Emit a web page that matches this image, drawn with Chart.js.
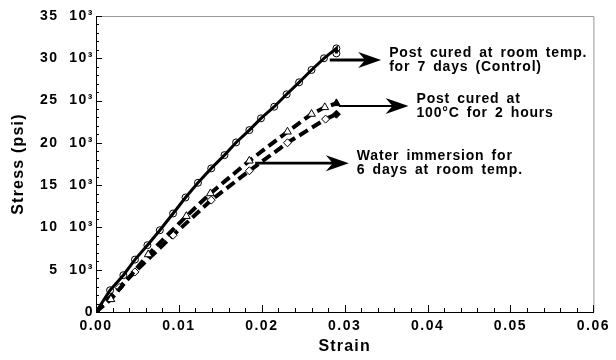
<!DOCTYPE html>
<html>
<head>
<meta charset="utf-8">
<script src="https://cdn.jsdelivr.net/npm/chart.js@4.4.0/dist/chart.umd.min.js"></script>
<style>
    html, body { margin: 0; padding: 0; background: #fff; }
    #wrap { width: 616px; height: 360px; }
</style>
</head>
<body>
<div id="wrap"><canvas id="chart"></canvas></div>
<script>
// Post cured at room temp. for 7 days (Control) - open circles, solid line
const controlStrain = [0, 0.0017, 0.0033, 0.0047, 0.0062, 0.0077, 0.0093, 0.0108, 0.0123, 0.0139, 0.0155, 0.0169, 0.0185, 0.0199, 0.0215, 0.0230, 0.0245, 0.0260, 0.0275, 0.0290, 0.0290];
const controlStress = [0, 2570, 4350, 6200, 7900, 9670, 11650, 13540, 15280, 16980, 18550, 20050, 21510, 22900, 24270, 25740, 27160, 28620, 30000, 31170, 30580];

// Post cured at 100°C for 2 hours - triangles, dashed line
const curedStrain = [0, 0.0018, 0.0063, 0.0109, 0.0138, 0.0185, 0.0231, 0.0260, 0.0276, 0.0290];
const curedStress = [0, 1500, 6800, 11330, 14020, 17880, 21310, 23410, 24200, 24670];

// Water immersion for 6 days at room temp. - diamonds, dashed line
const waterStrain = [0, 0.0028, 0.0047, 0.0093, 0.0139, 0.0185, 0.0231, 0.0277, 0.0290];
const waterStress = [0, 2900, 4740, 9080, 13230, 16700, 20010, 22810, 23390];

const xTickStep = 0.01;
const yTickStep = 5000;

// notes: text lines, arrow tail (strain, stress) and arrow tip strain
const noteText = [
    ['Post cured at room temp.', 'for 7 days (Control)'],
    ['Post cured at', '100°C for 2 hours'],
    ['Water immersion for', '6 days at room temp.']
];
const noteFrom = [[0.0282, 29800], [0.0293, 24360], [0.0192, 17600]];
const noteTo = [0.0344, 0.0377, 0.0305];
const noteWidth = [3.2, 2, 2.6];

const FONT = '"Liberation Sans", Arial, Helvetica, sans-serif';

function toPoints(xs, ys) {
    return xs.map((x, i) => ({ x: x, y: ys[i] }));
}

function lastFilled(n, fill) {
    return Array.from({ length: n }, (_, i) => i === n - 1 ? '#000' : fill);
}

// wide tracking like the scanned figure
const spacing = {
    id: 'spacing',
    beforeLayout(chart) { chart.ctx.letterSpacing = '1.5px'; },
    beforeDraw(chart) { chart.ctx.letterSpacing = '1.5px'; }
};

const decorations = {
    id: 'decorations',
    afterDraw(chart) {
        const { ctx, chartArea: a, scales: { x, y } } = chart;
        ctx.save();

        // frame
        ctx.lineWidth = 1;
        ctx.strokeStyle = '#999';
        ctx.beginPath();
        ctx.moveTo(a.left, a.top + 0.5);
        ctx.lineTo(a.right + 0.5, a.top + 0.5);
        ctx.lineTo(a.right + 0.5, a.bottom);
        ctx.stroke();

        // inward tick marks
        ctx.strokeStyle = '#000';
        ctx.beginPath();
        for (let v = 0; v <= y.max; v += 1000) {
            const py = Math.round(y.getPixelForValue(v)) + 0.5;
            const len = v % yTickStep === 0 ? 6 : 3;
            ctx.moveTo(a.left, py);
            ctx.lineTo(a.left + len, py);
        }
        for (let i = 0; i <= 30; i++) {
            const px = Math.round(x.getPixelForValue(i * 0.002)) + 0.5;
            const len = i % 5 === 0 ? 7 : 4;
            ctx.moveTo(px, a.bottom);
            ctx.lineTo(px, a.bottom - len);
        }
        ctx.stroke();

        // arrows and notes
        ctx.fillStyle = '#000';
        noteText.forEach((lines, i) => {
            const x1 = x.getPixelForValue(noteFrom[i][0]);
            const py = y.getPixelForValue(noteFrom[i][1]);
            const x2 = x.getPixelForValue(noteTo[i]);
            ctx.lineWidth = noteWidth[i];
            ctx.beginPath();
            ctx.moveTo(x1, py);
            ctx.lineTo(x2 - 12, py);
            ctx.stroke();
            ctx.beginPath();
            ctx.moveTo(x2, py);
            ctx.lineTo(x2 - 23, py - 8);
            ctx.lineTo(x2 - 16, py);
            ctx.lineTo(x2 - 23, py + 8);
            ctx.closePath();
            ctx.fill();

            ctx.font = 'bold 14px ' + FONT;
            ctx.letterSpacing = '0.8px';
            ctx.wordSpacing = '2.5px';
            ctx.textAlign = 'left';
            ctx.textBaseline = 'alphabetic';
            lines.forEach((t, j) => ctx.fillText(t, x2 + 8, py - 3 + j * 14));
        });

        // axis titles
        ctx.font = 'bold 16px ' + FONT;
        ctx.letterSpacing = '1.2px';
        ctx.wordSpacing = '0px';
        ctx.textAlign = 'center';
        ctx.textBaseline = 'middle';
        ctx.fillText('Strain', (a.left + a.right) / 2, 347);
        ctx.translate(19, (a.top + a.bottom) / 2);
        ctx.rotate(-Math.PI / 2);
        ctx.fillText('Stress (psi)', 0, 0);

        ctx.restore();
    }
};

const ctx = document.getElementById('chart').getContext('2d');

new Chart(ctx, {
    type: 'scatter',
    data: {
        datasets: [
            {
                label: 'Post cured at room temp. for 7 days (Control)',
                data: toPoints(controlStrain, controlStress),
                showLine: true,
                borderColor: '#000',
                borderWidth: 3,
                pointStyle: 'circle',
                pointRadius: 3.5,
                pointBorderWidth: 1,
                pointBorderColor: '#000',
                pointBackgroundColor: 'rgba(0,0,0,0)',
                tension: 0
            },
            {
                label: 'Post cured at 100°C for 2 hours',
                data: toPoints(curedStrain, curedStress),
                showLine: true,
                borderColor: '#000',
                borderWidth: 4,
                borderDash: [10, 5],
                pointStyle: 'triangle',
                pointRadius: 4.5,
                pointBorderWidth: 1,
                pointBorderColor: '#000',
                pointBackgroundColor: lastFilled(curedStrain.length, '#fff'),
                tension: 0
            },
            {
                label: 'Water immersion for 6 days at room temp.',
                data: toPoints(waterStrain, waterStress),
                showLine: true,
                borderColor: '#000',
                borderWidth: 4,
                borderDash: [10, 5],
                pointStyle: 'rectRot',
                pointRadius: 4,
                pointBorderWidth: 1,
                pointBorderColor: '#000',
                pointBackgroundColor: lastFilled(waterStrain.length, '#fff'),
                tension: 0
            }
        ]
    },
    options: {
        responsive: true,
        maintainAspectRatio: false,
        animation: false,
        layout: {
            padding: { left: 0, right: 20, top: 16, bottom: 0 }
        },
        scales: {
            x: {
                type: 'linear',
                min: 0,
                max: 0.06,
                grid: { display: false, drawTicks: false },
                border: { display: true, color: '#000', width: 1 },
                ticks: {
                    stepSize: xTickStep,
                    padding: 6,
                    color: '#000',
                    font: { family: FONT, size: 14, weight: 'bold' },
                    callback: v => v.toFixed(2)
                },
                afterFit: scale => { scale.height = 48; }
            },
            y: {
                type: 'linear',
                min: 0,
                max: 35000,
                grid: { display: false, drawTicks: false },
                border: { display: true, color: '#000', width: 1 },
                ticks: {
                    stepSize: yTickStep,
                    padding: 2,
                    color: '#000',
                    font: { family: FONT, size: 14, weight: 'bold' },
                    callback: v => v === 0 ? '0' : (v / 1000) + '  10³'
                },
                afterFit: scale => { scale.width = 96; }
            }
        },
        plugins: {
            legend: { display: false },
            tooltip: { enabled: false }
        }
    },
    plugins: [spacing, decorations]
});
</script>
</body>
</html>
